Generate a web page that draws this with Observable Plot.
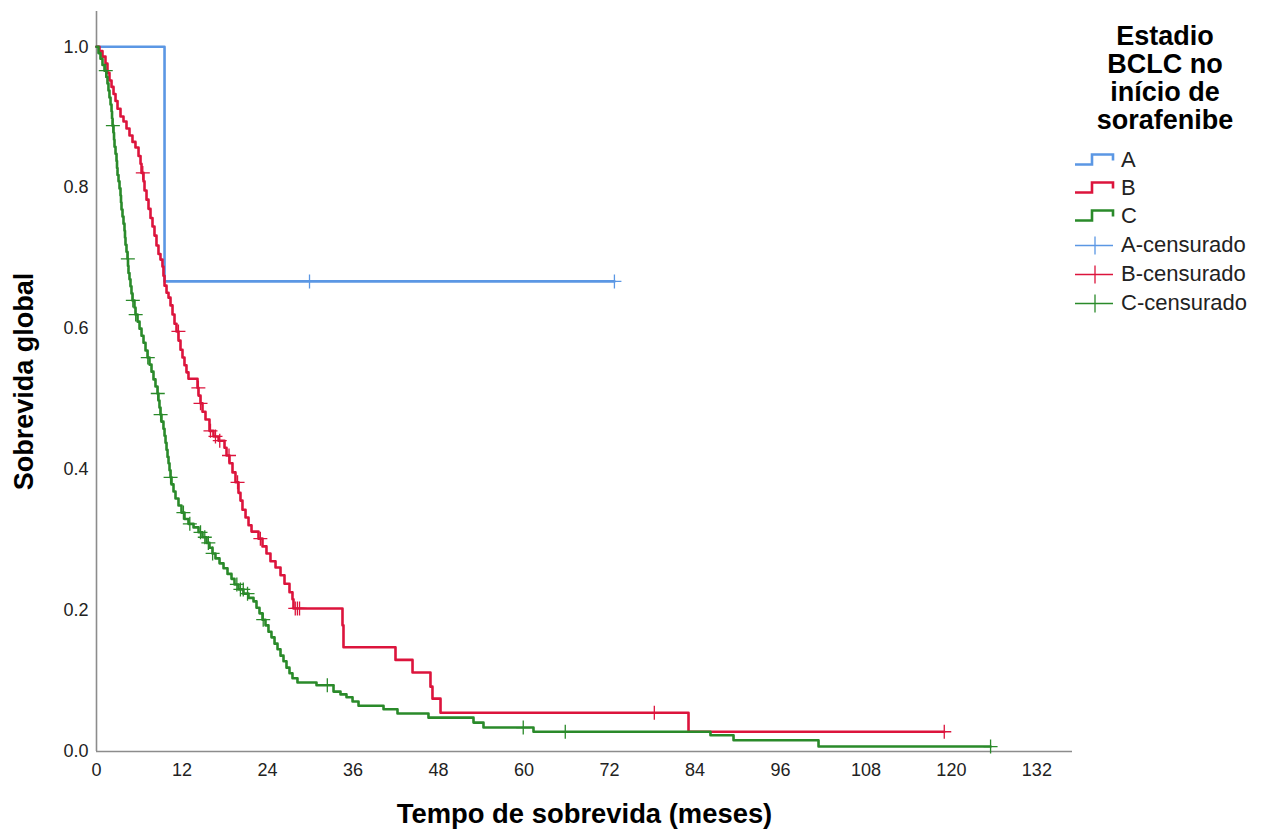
<!DOCTYPE html>
<html><head><meta charset="utf-8">
<script src="https://cdn.jsdelivr.net/npm/d3@7"></script>
<script src="https://cdn.jsdelivr.net/npm/@observablehq/plot@0.6"></script>
<style>
body{margin:0;background:#fff;}
#wrap{position:relative;width:1264px;height:836px;font-family:"Liberation Sans",Arial,sans-serif;overflow:hidden;}
#legend{position:absolute;left:1063px;top:0;width:204px;height:330px;}
#legend .title{position:absolute;left:0;top:22px;width:204px;text-align:center;font-weight:bold;font-size:27px;line-height:28px;color:#000;}
#legend .item{position:absolute;left:12px;height:29px;display:flex;align-items:center;font-size:22px;color:#222;}
#legend .item svg{width:46px;height:29px;margin-right:0;}
#chart g[aria-label="x-axis tick label"], #chart g[aria-label="y-axis tick label"]{font-size:18px !important;}
#chart g[aria-label="x-axis tick label"] text, #chart g[aria-label="y-axis tick label"] text{font-size:18px !important;}
</style></head>
<body><div id="wrap"><div id="chart"></div><div id="legend"></div></div>
<script>
// ---- data ----
const groups = ["A", "B", "C"];
const groupColors = ["#5b97e4", "#dc143c", "#2a8a2a"];
const legendTitleLines = ["Estadio", "BCLC no", "início de", "sorafenibe"];
const xTicks = [0, 12, 24, 36, 48, 60, 72, 84, 96, 108, 120, 132];
const yTicks = [0, 0.2, 0.4, 0.6, 0.8, 1.0];
const xTitle = "Tempo de sobrevida (meses)";
const yTitle = "Sobrevida global";

// Group A
const timesA = [9.55];
const survA = [0.667];
const endA = 72.7;
const censA = [29.9, 72.7];

// Group B
const timesB = [0.42,0.84,1.26,1.54,1.82,2.11,2.39,2.67,2.95,3.37,3.79,4.21,4.63,5.05,5.47,5.90,6.18,6.32,6.60,6.74,7.02,7.30,7.58,7.86,8.14,8.42,8.70,8.98,9.26,9.40,9.55,9.83,10.11,10.39,10.67,10.95,11.23,11.51,11.79,12.07,12.35,12.63,12.91,14.18,14.32,14.60,14.88,15.30,15.86,16.42,17.13,17.97,18.25,18.67,19.09,19.51,19.93,20.21,20.49,20.92,21.34,21.76,22.74,23.30,23.86,24.42,25.13,25.83,26.39,27.09,27.51,27.65,34.53,34.67,41.97,44.36,46.88,47.16,48.29,83.10];
const survB = [0.994,0.986,0.976,0.963,0.952,0.943,0.933,0.923,0.912,0.901,0.894,0.884,0.874,0.865,0.857,0.845,0.834,0.821,0.809,0.796,0.783,0.770,0.757,0.745,0.732,0.718,0.706,0.698,0.688,0.675,0.661,0.651,0.644,0.633,0.620,0.607,0.596,0.583,0.570,0.559,0.548,0.538,0.529,0.516,0.505,0.494,0.482,0.471,0.455,0.447,0.441,0.431,0.420,0.409,0.396,0.382,0.367,0.356,0.343,0.332,0.321,0.312,0.302,0.291,0.281,0.270,0.261,0.250,0.238,0.226,0.216,0.203,0.179,0.148,0.130,0.112,0.092,0.075,0.055,0.028];
const endB = 119.0;
const censB = [6.5,11.5,14.3,14.6,16.0,16.7,17.3,18.6,19.8,23.0,27.9,28.2,28.5,78.3,119.0];

// Group C
const timesC = [0.28,0.56,0.84,1.12,1.40,1.54,1.68,1.82,1.97,2.11,2.18,2.25,2.39,2.46,2.53,2.67,2.81,2.88,2.95,3.09,3.23,3.37,3.44,3.51,3.65,3.79,3.93,4.00,4.07,4.21,4.35,4.42,4.49,4.63,4.77,4.91,5.05,5.33,5.47,5.76,6.04,6.32,6.60,6.88,7.16,7.44,7.72,8.00,8.28,8.56,8.70,8.84,8.98,9.12,9.40,9.55,9.69,9.83,9.97,10.11,10.25,10.39,10.53,10.81,11.09,11.51,11.93,12.35,12.91,13.62,14.32,14.88,15.44,15.86,16.28,16.70,17.27,17.83,18.39,18.95,19.37,19.93,20.63,21.34,22.04,22.46,22.88,23.30,23.72,24.14,24.56,24.99,25.41,25.83,26.25,26.67,27.09,27.51,28.21,30.88,33.27,34.25,35.09,35.94,36.78,40.29,42.25,46.60,52.92,54.32,61.34,86.18,89.42,101.35];
const survC = [0.991,0.983,0.974,0.966,0.957,0.948,0.938,0.928,0.918,0.908,0.898,0.888,0.878,0.868,0.858,0.848,0.838,0.828,0.818,0.809,0.799,0.789,0.779,0.769,0.759,0.749,0.739,0.729,0.719,0.709,0.699,0.689,0.679,0.670,0.660,0.650,0.640,0.630,0.620,0.610,0.600,0.590,0.580,0.569,0.559,0.549,0.539,0.528,0.518,0.508,0.498,0.488,0.478,0.468,0.458,0.448,0.438,0.428,0.418,0.409,0.399,0.389,0.379,0.369,0.359,0.349,0.339,0.330,0.323,0.318,0.311,0.304,0.296,0.289,0.281,0.274,0.267,0.260,0.252,0.245,0.237,0.230,0.224,0.218,0.213,0.204,0.196,0.187,0.179,0.170,0.162,0.153,0.145,0.136,0.128,0.119,0.111,0.104,0.098,0.094,0.085,0.081,0.077,0.071,0.065,0.060,0.054,0.048,0.041,0.034,0.028,0.023,0.016,0.007];
const endC = 125.5;
const censC = [1.3,2.3,4.4,5.1,5.5,7.2,8.6,9.0,10.4,12.2,13.1,14.6,15.2,15.7,16.3,19.7,20.2,20.6,21.2,23.4,32.4,59.9,65.8,125.5];

// ---- build tables ----
function stepRows(g, times, surv, end) {
  const rows = [{g, t: 0, s: 1}];
  times.forEach((t, i) => rows.push({g, t, s: surv[i]}));
  rows.push({g, t: end, s: surv[surv.length - 1]});
  return rows;
}
function survAt(times, surv, t) {
  let s = 1;
  for (let i = 0; i < times.length; i++) if (times[i] <= t) s = surv[i];
  return s;
}
function censRows(g, times, surv, cens) {
  return cens.map(t => ({g, t, s: survAt(times, surv, t)}));
}
const lines = [
  ...stepRows("A", timesA, survA, endA),
  ...stepRows("B", timesB, survB, endB),
  ...stepRows("C", timesC, survC, endC)
];
const censored = [
  ...censRows("A", timesA, survA, censA),
  ...censRows("B", timesB, survB, censB),
  ...censRows("C", timesC, survC, censC)
];

const plusSymbol = {
  draw(ctx, size) {
    const r = Math.sqrt(size / Math.PI);
    ctx.moveTo(-r, 0); ctx.lineTo(r, 0);
    ctx.moveTo(0, -r); ctx.lineTo(0, r);
  }
};

const chart = Plot.plot({
  width: 1264,
  height: 836,
  marginLeft: 96,
  marginRight: 192,
  marginTop: 11,
  marginBottom: 85,
  style: {background: "white", fontFamily: "'Liberation Sans', Arial, sans-serif", fontSize: "18px", overflow: "visible"},
  x: {domain: [0, 137]},
  y: {domain: [0, 1.05]},
  color: {domain: groups, range: groupColors},
  marks: [
    Plot.axisX({ticks: xTicks, tickSize: 0, tickPadding: 12, fontSize: 18, label: null, fill: "#222"}),
    Plot.axisY({ticks: yTicks, tickSize: 0, tickPadding: 8, tickFormat: d3.format(".1f"), fontSize: 18, label: null, fill: "#222"}),
    Plot.ruleX([0], {stroke: "#8c8c8c", strokeWidth: 1.6}),
    Plot.ruleY([0], {stroke: "#8c8c8c", strokeWidth: 1.6}),
    Plot.line(lines, {x: "t", y: "s", z: "g", stroke: "g", curve: "step-after", strokeWidth: 2.6}),
    Plot.dot(censored, {x: "t", y: "s", stroke: "g", symbol: plusSymbol, r: 7, strokeWidth: 1.3}),
    Plot.text([yTitle], {frameAnchor: "left", textAnchor: "middle", rotate: -90, dx: -72, fontSize: 27, fontWeight: "bold", fill: "#000"}),
    Plot.text([xTitle], {frameAnchor: "bottom", textAnchor: "middle", dy: 71, fontSize: 27.4, fontWeight: "bold", fill: "#000"})
  ]
});
document.getElementById("chart").appendChild(chart);
// make sure the axis tick labels use the intended size
d3.select(chart).selectAll('g[aria-label$="axis tick label"]').attr("font-size", 18).style("font-size", "18px");

// ---- legend ----
const legend = document.getElementById("legend");
const title = document.createElement("div");
title.className = "title";
title.innerHTML = legendTitleLines.join("<br>");
legend.appendChild(title);
const ns = "http://www.w3.org/2000/svg";
const legendItems = [
  ...groups.map((g, i) => ({label: g, color: groupColors[i], kind: "step"})),
  ...groups.map((g, i) => ({label: g + "-censurado", color: groupColors[i], kind: "cens"}))
];
const rowCenters = [160, 188, 216, 245, 274, 303];
legendItems.forEach((it, i) => {
  const row = document.createElement("div");
  row.className = "item";
  row.style.top = (rowCenters[i] - 14.5) + "px";
  const svg = document.createElementNS(ns, "svg");
  svg.setAttribute("viewBox", "0 0 46 29");
  const p = document.createElementNS(ns, "path");
  if (it.kind === "step") {
    p.setAttribute("d", "M0,18.5 H17 V8.5 H38 V14.5");
    p.setAttribute("stroke-width", "2.6");
  } else {
    p.setAttribute("d", "M0,14.5 H38 M20,5.5 V23.5");
    p.setAttribute("stroke-width", "1.3");
  }
  p.setAttribute("fill", "none");
  p.setAttribute("stroke", it.color);
  svg.appendChild(p);
  row.appendChild(svg);
  const span = document.createElement("span");
  span.textContent = it.label;
  row.appendChild(span);
  legend.appendChild(row);
});
</script>
</body></html>
